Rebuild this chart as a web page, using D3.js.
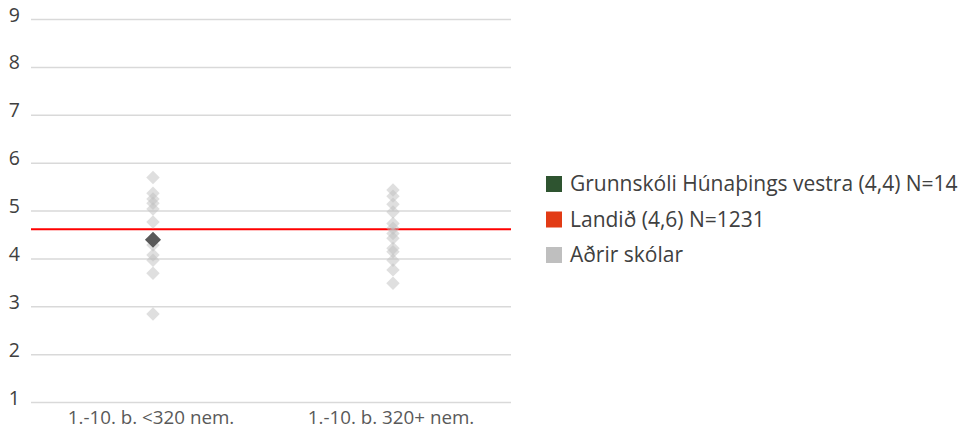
<!DOCTYPE html>
<html>
<head>
<meta charset="utf-8">
<script src="https://cdn.jsdelivr.net/npm/d3@7"></script>
<style>
  body { margin: 0; background: #fff; }
  svg { font-family: "Open Sans", Lato, sans-serif; }
</style>
</head>
<body>
<svg id="chart" width="963" height="430"></svg>
<script>
// data
var categories = ["1.-10. b. <320 nem.", "1.-10. b. 320+ nem."]
var otherSmall = [5.70, 5.37, 5.25, 5.16, 5.04, 4.77, 4.29, 4.08, 3.97, 3.70, 2.85]
var otherLarge = [5.44, 5.31, 5.14, 4.98, 4.74, 4.64, 4.53, 4.43, 4.22, 4.15, 3.97, 3.77, 3.49]
var schoolValue = 4.4
var schoolCategory = categories[0]
var landValue = 4.62
var yTicks = [1, 2, 3, 4, 5, 6, 7, 8, 9]
var legendLabels = ["Grunnskóli Húnaþings vestra (4,4) N=14", "Landið (4,6) N=1231", "Aðrir skólar"]
var legendColors = ["#2e5430", "#e23b15", "#bfbfbf"]

var svg = d3.select("#chart")
var plotL = 31, plotR = 511, plotT = 19.5, plotB = 402.5

var x = d3.scaleBand().domain(categories).range([plotL, plotR])
var y = d3.scaleLinear().domain([1, 9]).range([plotB, plotT])

// gridlines
svg.append("g").selectAll("line").data(yTicks).enter().append("line")
    .attr("x1", plotL).attr("x2", plotR)
    .attr("y1", function(d) { return y(d) }).attr("y2", function(d) { return y(d) })
    .attr("stroke", "#d9d9d9").attr("stroke-width", 1.5)

// y labels
svg.append("g").selectAll("text").data(yTicks).enter().append("text")
    .attr("x", 20).attr("y", function(d) { return y(d) + 2 })
    .attr("text-anchor", "end")
    .attr("font-size", 19.5).attr("fill", "#404040")
    .text(function(d) { return d })

// x labels
svg.append("g").selectAll("text").data(categories).enter().append("text")
    .attr("x", function(d) { return x(d) + x.bandwidth() / 2 })
    .attr("y", 424)
    .attr("text-anchor", "middle")
    .attr("font-size", 18.8).attr("fill", "#595959")
    .text(function(d) { return d })

// land line
svg.append("line")
    .attr("x1", plotL).attr("x2", plotR)
    .attr("y1", y(landValue)).attr("y2", y(landValue))
    .attr("stroke", "#ff0000").attr("stroke-width", 2)

var diamond = d3.symbol().type(d3.symbolDiamond2)
function drawOthers(vals, cat) {
    svg.append("g").selectAll("path").data(vals).enter().append("path")
        .attr("d", diamond.size(115))
        .attr("transform", function(d) { return "translate(" + (x(cat) + x.bandwidth() / 2 + 2) + "," + y(d) + ")" })
        .attr("fill", "#bfbfbf").attr("fill-opacity", 0.5)
}
drawOthers(otherSmall, categories[0])
drawOthers(otherLarge, categories[1])

svg.append("path")
    .attr("d", diamond.size(165))
    .attr("transform", "translate(" + (x(schoolCategory) + x.bandwidth() / 2 + 2) + "," + y(schoolValue) + ")")
    .attr("fill", "#595959")

// legend
var lg = svg.append("g").selectAll("g").data(legendLabels).enter().append("g")
    .attr("transform", function(d, i) { return "translate(546," + (184 + i * 35.5) + ")" })
lg.append("rect").attr("x", 0).attr("y", -8).attr("width", 16).attr("height", 16)
    .attr("fill", function(d, i) { return legendColors[i] })
lg.append("text").attr("x", 24).attr("y", 0).attr("dy", "0.35em")
    .attr("font-size", 21).attr("fill", "#404040")
    .text(function(d) { return d })
</script>
</body>
</html>
